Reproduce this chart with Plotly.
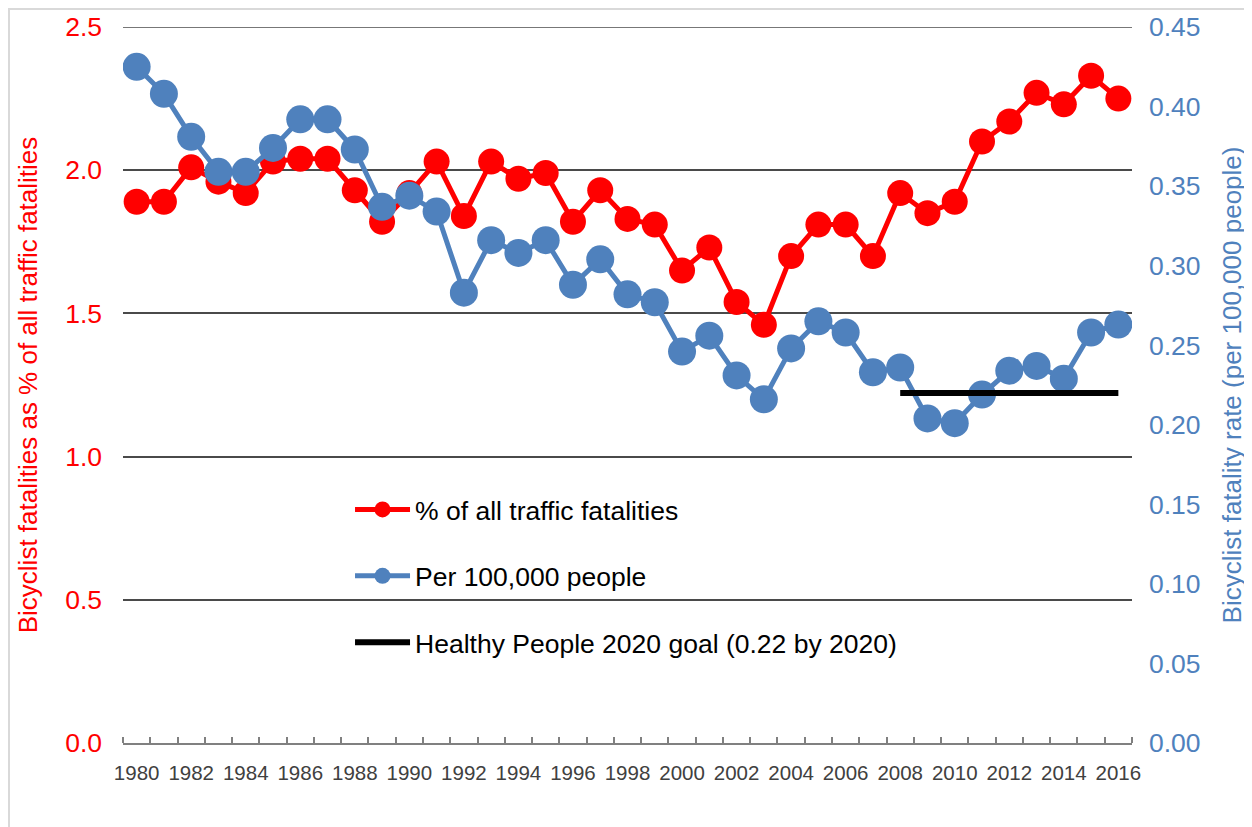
import plotly.graph_objects as go

years = list(range(1980, 2017))

# bicyclist deaths as % of all traffic deaths (left axis)
pct_all = [1.89, 1.89, 2.01, 1.96, 1.92, 2.03, 2.04, 2.04, 1.93, 1.82,
           1.92, 2.03, 1.84, 2.03, 1.97, 1.99, 1.82, 1.93, 1.83, 1.81,
           1.65, 1.73, 1.54, 1.46, 1.70, 1.81, 1.81, 1.70, 1.92, 1.85,
           1.89, 2.10, 2.17, 2.27, 2.23, 2.33, 2.25]

# bicyclist deaths per 100,000 people (right axis)
per_100k = [0.425, 0.408, 0.381, 0.359, 0.359, 0.374, 0.392, 0.392, 0.373, 0.337,
            0.344, 0.334, 0.283, 0.316, 0.308, 0.316, 0.288, 0.304, 0.282, 0.277,
            0.246, 0.256, 0.231, 0.216, 0.248, 0.265, 0.258, 0.233, 0.236, 0.204,
            0.201, 0.219, 0.234, 0.237, 0.229, 0.258, 0.263]

goal_years = [2008, 2016]
goal_value = [0.22, 0.22]

RED = '#FF0000'
BLUE = '#4F81BD'
GRID = '#4a4a4a'
FONT = 'Liberation Sans, Arial, sans-serif'

fig = go.Figure()

fig.add_trace(go.Scatter(
    x=years, y=pct_all, name='% of all traffic fatalities',
    mode='lines+markers', legendgroup='a',
    line=dict(color=RED, width=5),
    marker=dict(color=RED, size=26),
))

fig.add_trace(go.Scatter(
    x=years, y=per_100k, name='Per 100,000 people', yaxis='y2',
    mode='lines+markers', legendgroup='b',
    line=dict(color=BLUE, width=5),
    marker=dict(color=BLUE, size=28),
))

fig.add_trace(go.Scatter(
    x=goal_years, y=goal_value, name='Healthy People 2020 goal (0.22 by 2020)',
    yaxis='y2', mode='lines', legendgroup='c',
    line=dict(color='black', width=6),
))

# page body has an 8px margin, so the figure is 8px smaller than the window
fig.update_layout(
    width=1244, height=819,
    margin=dict(l=115, r=120, t=19, b=84),
    paper_bgcolor='white', plot_bgcolor='white',
    font=dict(family=FONT, color='#404040'),
    xaxis=dict(
        range=[1979.5, 2016.5], tick0=1980, dtick=2,
        ticks='', showgrid=False, zeroline=False, automargin=False,
        showline=True, linecolor='#808080', linewidth=2,
        tickfont=dict(size=20.5, color='#404040'),
        ticklabelstandoff=10,
        minor=dict(ticks='inside', tick0=1979.5, dtick=1, ticklen=6,
                   tickcolor='#808080', tickwidth=1.5, showgrid=False),
    ),
    yaxis=dict(
        range=[0, 2.5], dtick=0.5, tickformat='.1f',
        showgrid=True, gridcolor=GRID, gridwidth=1.5,
        zeroline=False, showline=False, ticks='', automargin=False,
        tickfont=dict(size=26.5, color=RED),
        ticklabelstandoff=20,
        title=dict(text='Bicyclist fatalities as % of all traffic fatalities',
                   font=dict(size=26, color=RED), standoff=20),
    ),
    yaxis2=dict(
        range=[0, 0.45], dtick=0.05, tickformat='.2f',
        overlaying='y', side='right', automargin=False,
        showgrid=False, zeroline=False, showline=False, ticks='',
        tickfont=dict(size=26.5, color=BLUE),
        ticklabelstandoff=16,
        title=dict(text='Bicyclist fatality rate (per 100,000 people)',
                   font=dict(size=26, color=BLUE), standoff=23),
    ),
    showlegend=True,
    legend=dict(
        x=0.225, y=0.233, xanchor='left', yanchor='middle',
        bgcolor='rgba(0,0,0,0)', tracegroupgap=29, itemwidth=55,
        font=dict(size=26.5, color='black'),
    ),
)

# plotly skips the gridline sitting on the top edge, so add it back
fig.add_shape(type='line', xref='paper', yref='y', x0=0, x1=1, y0=2.5, y1=2.5,
              line=dict(color=GRID, width=1.5), layer='below')

# light grey frame around the chart (left and top edges are visible)
fig.add_shape(type='rect', xref='paper', yref='paper',
              x0=-0.113, y0=-0.3, x1=1.3, y1=1.0251,
              line=dict(color='#D9D9D9', width=2), layer='below')

fig.write_html('out.html')
